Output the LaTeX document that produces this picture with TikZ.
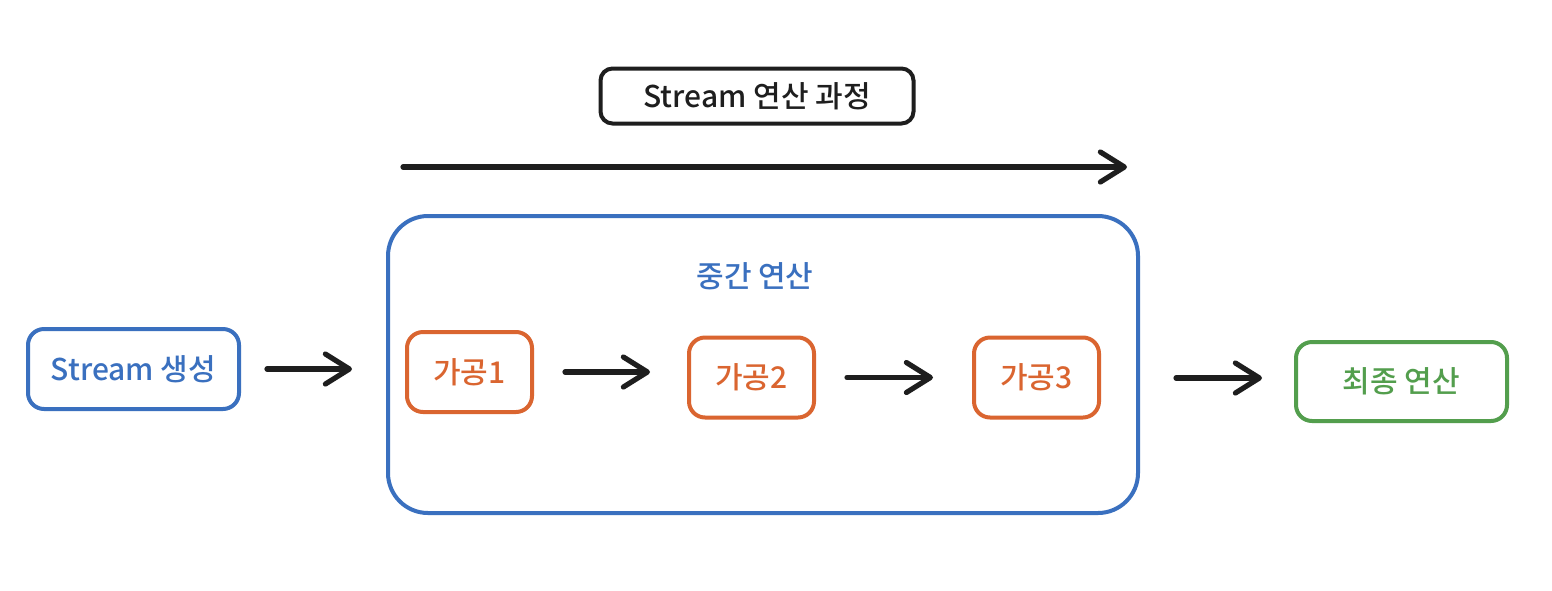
\documentclass[tikz,border=0pt]{standalone}
\usepackage{fontspec}
\setmainfont{Noto Sans CJK KR}[UprightFont=* Medium]
\usetikzlibrary{arrows.meta}
\definecolor{cblue}{HTML}{3A70BF}
\definecolor{corange}{HTML}{DA6530}
\definecolor{cgreen}{HTML}{539E4D}
\definecolor{cblack}{HTML}{1E1E1E}
\tikzset{
  box/.style={draw, line width=2pt, rounded corners=8pt, inner sep=0pt, align=center, font=\fontsize{15}{18}\selectfont},
  bluebox/.style={box, draw=cblue, text=cblue},
  orangebox/.style={box, draw=corange, text=corange, minimum width=62.5pt, minimum height=40pt},
  greenbox/.style={box, draw=cgreen, text=cgreen, minimum width=105.5pt, minimum height=39.5pt},
  titlebox/.style={box, draw=cblack, text=cblack, minimum width=156.5pt, minimum height=27.5pt, rounded corners=6pt},
  flow/.style={draw=cblack, line width=2.6pt, line cap=round, -{Straight Barb[length=12pt, width=15pt, line width=2.6pt, round]}}
}
\begin{document}
\begin{tikzpicture}[x=0.5pt,y=-0.5pt]
\fill[white] (0,0) rectangle (1552,590);
\useasboundingbox (0,0) rectangle (1552,590);
\node[titlebox] (title) at (757,96) {Stream 연산 과정};
\coordinate (ts) at (403,167);
\coordinate (te) at (1127,167);
\draw[flow] (ts) -- (te);
\node[bluebox, minimum width=375pt, minimum height=148.5pt, rounded corners=20pt] (mid) at (763,364.5) {};
\node[text=cblue, font=\fontsize{15}{18}\selectfont] (midlabel) at (755,276) {중간 연산};
\node[bluebox, minimum width=105.5pt, minimum height=40pt] (gen) at (133.5,369) {Stream 생성};
\node[orangebox] (p1) at (469.5,372) {가공1};
\node[orangebox] (p2) at (751.5,377.5) {가공2};
\node[orangebox] (p3) at (1036.5,377.5) {가공3};
\node[greenbox] (fin) at (1401.5,381.5) {최종 연산};
\draw[flow] ([xshift=13pt]gen.east) -- ([xshift=-17pt]mid.west |- gen.east);
\draw[flow] ([xshift=15.5pt]p1.east) -- ([xshift=-18.5pt]p2.west |- p1.east);
\draw[flow] ([xshift=15.5pt]p2.east) -- ([xshift=-19.5pt]p3.west |- p2.east);
\draw[flow] ([xshift=18pt,yshift=1.75pt]mid.east |- fin.west) -- ([xshift=-16pt,yshift=1.75pt]fin.west);
\end{tikzpicture}
\end{document}
